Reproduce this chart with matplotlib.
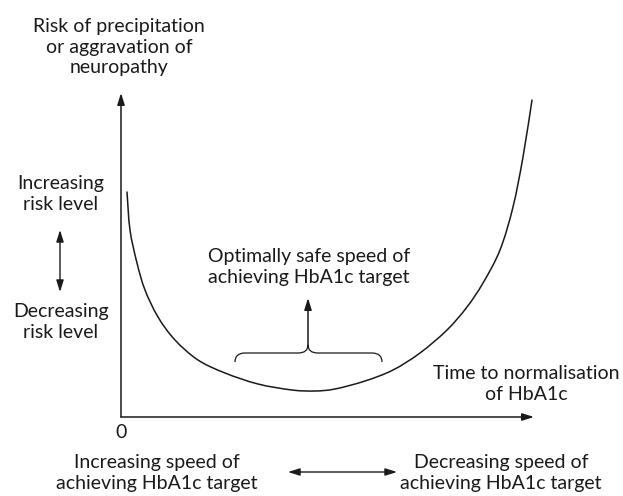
import matplotlib
matplotlib.use("Agg")
import matplotlib.pyplot as plt
from matplotlib.path import Path
from matplotlib.patches import PathPatch

# Conceptual U-shaped risk curve (arbitrary units, origin at the axes corner)
time_to_norm = [6, 9, 16, 24, 37, 54, 77, 104, 137, 171, 194, 214, 244,
                272, 299, 326, 346, 362, 379, 392, 402, 411]
risk = [225, 187, 154, 127, 100, 77, 57, 44, 33, 27, 26, 28, 36,
        47, 64, 87, 110, 134, 167, 210, 260, 317]

FONT = "Lato"
FS = 14
INK = "#1a1a1a"


def smooth_path(xs, ys):
    # Catmull-Rom through the points, drawn as cubic bezier segments
    pts = list(zip(xs, ys))
    verts, codes = [pts[0]], [Path.MOVETO]
    for i in range(len(pts) - 1):
        p0 = pts[i - 1] if i > 0 else pts[i]
        p1, p2 = pts[i], pts[i + 1]
        p3 = pts[i + 2] if i + 2 < len(pts) else pts[i + 1]
        c1 = (p1[0] + (p2[0] - p0[0]) / 6, p1[1] + (p2[1] - p0[1]) / 6)
        c2 = (p2[0] - (p3[0] - p1[0]) / 6, p2[1] - (p3[1] - p1[1]) / 6)
        verts += [c1, c2, p2]
        codes += [Path.CURVE4] * 3
    return Path(verts, codes)


fig = plt.figure(figsize=(6.23, 4.96), dpi=100)
ax = fig.add_axes([0, 0, 1, 1])
ax.set_xlim(-121, 502)
ax.set_ylim(-79, 417)
ax.axis("off")

arrow = dict(arrowstyle="-|>,head_length=0.7,head_width=0.22",
             color=INK, lw=1.1, shrinkA=0, shrinkB=0)
double = dict(arrowstyle="<|-|>,head_length=0.7,head_width=0.22",
              color=INK, lw=1.0, shrinkA=0, shrinkB=0)

# axes with arrowheads
ax.annotate("", xy=(0, 324), xytext=(0, 0), arrowprops=arrow)
ax.annotate("", xy=(413, 0), xytext=(0, 0), arrowprops=arrow)

ax.add_patch(PathPatch(smooth_path(time_to_norm, risk), fill=False,
                       edgecolor=INK, lw=1.1, capstyle="round"))

txt = dict(family=FONT, fontsize=FS, color=INK, ha="center", va="center",
           linespacing=1.25)
ax.text(-2, 370, "Risk of precipitation\nor aggravation of\nneuropathy", **txt)
ax.text(-60, 223, "Increasing\nrisk level", **txt)
ax.text(-60, 95, "Decreasing\nrisk level", **txt)
ax.annotate("", xy=(-61, 187), xytext=(-61, 125), arrowprops=double)

ax.text(188, 150, "Optimally safe speed of\nachieving HbA1c target", **txt)
ax.annotate("", xy=(187, 119), xytext=(187, 72), arrowprops=arrow)

# curly brace under the arrow
bx0, bx1, bmid, base, flat, tip = 114, 261, 187, 55, 64, 72
verts = [(bx0, base), (bx0, flat), (bx0 + 10, flat),
         (bmid - 10, flat), (bmid, flat), (bmid, tip),
         (bmid, flat), (bmid + 10, flat),
         (bx1 - 10, flat), (bx1, flat), (bx1, base)]
codes = [Path.MOVETO, Path.CURVE3, Path.CURVE3,
         Path.LINETO, Path.CURVE3, Path.CURVE3,
         Path.CURVE3, Path.CURVE3,
         Path.LINETO, Path.CURVE3, Path.CURVE3]
ax.add_patch(PathPatch(Path(verts, codes), fill=False, edgecolor=INK, lw=0.9))

ax.text(405, 33, "Time to normalisation\nof HbA1c", **txt)
ax.text(0, -16, "0", **txt)

ax.text(36, -56, "Increasing speed of\nachieving HbA1c target", **txt)
ax.text(380, -56, "Decreasing speed of\nachieving HbA1c target", **txt)
ax.annotate("", xy=(276, -55), xytext=(167, -55), arrowprops=double)

fig.savefig("out.png", dpi=100)
